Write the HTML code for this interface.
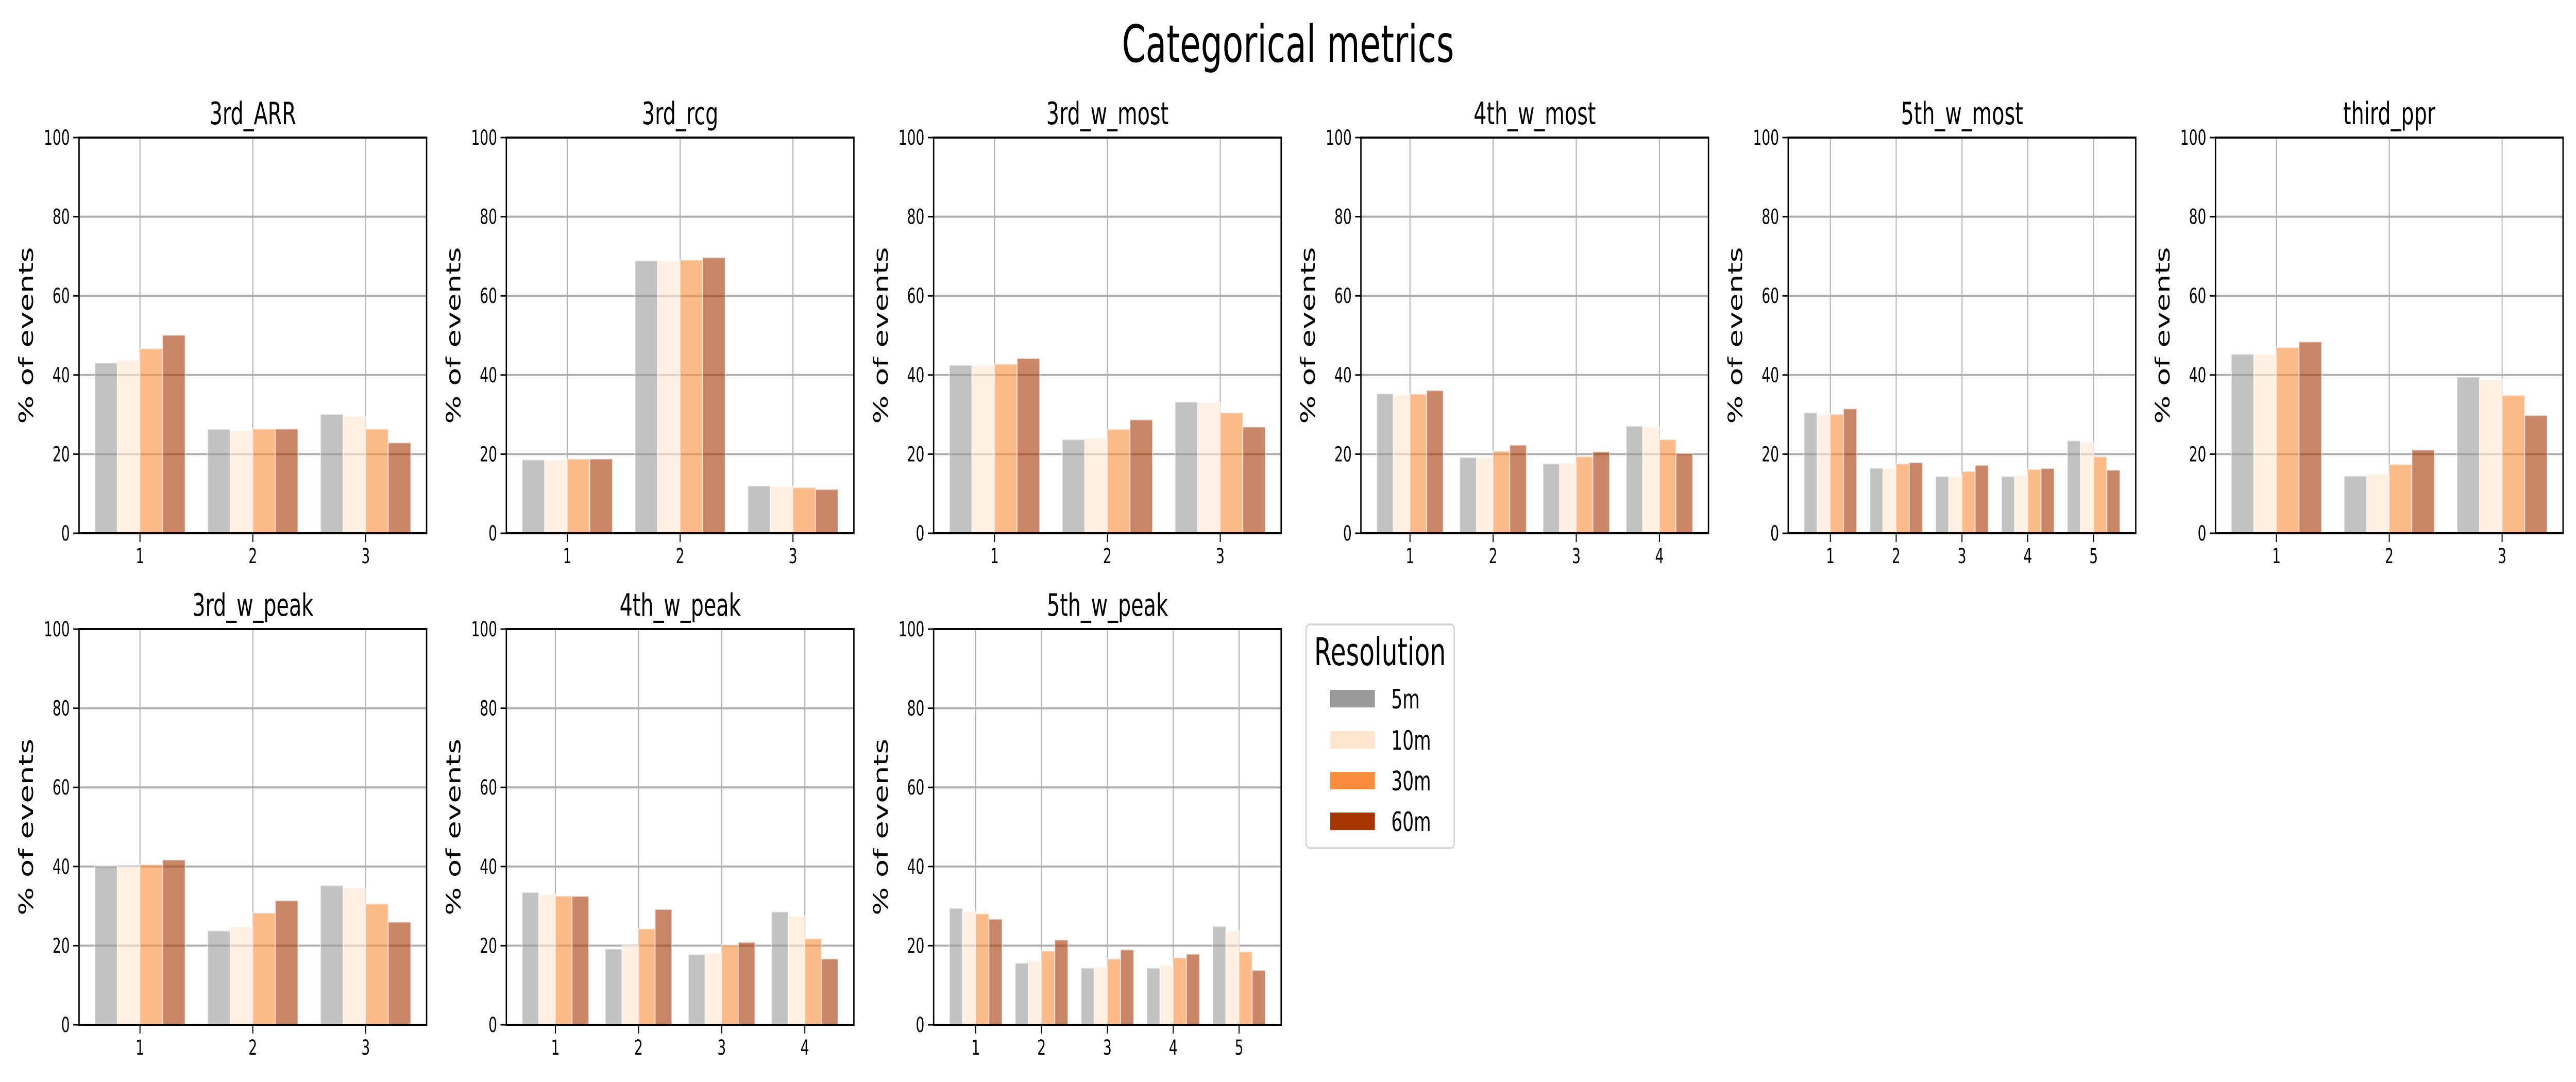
<!DOCTYPE html>
<html><head><meta charset="utf-8"><style>
html,body{margin:0;padding:0;background:#fff;overflow:hidden;}
svg{display:block;width:100vw;height:100vh;font-family:"DejaVu Sans","Liberation Sans",sans-serif;}
</style></head><body>
<svg id="fig" viewBox="0 0 7560 2100" preserveAspectRatio="none" xmlns="http://www.w3.org/2000/svg">
<rect width="7560" height="2100" fill="#fff"/>
<text x="3780" y="120" font-size="100" text-anchor="middle">Categorical metrics</text>
<g id="panels"></g>
<g>
<rect x="3833" y="1212" width="435" height="434" rx="10" fill="#fff" stroke="#d6d6d6" stroke-width="4"/>
<text x="4050" y="1291" font-size="74" text-anchor="middle">Resolution</text>
<g id="legend-items"></g>
</g>
</svg>
<script>
const titles = ["3rd_ARR","3rd_rcg","3rd_w_most","4th_w_most","5th_w_most","third_ppr","3rd_w_peak","4th_w_peak","5th_w_peak"];
const seriesNames = ["5m","10m","30m","60m"];
const seriesColors = ["#999999","#fee6ce","#fd8d3c","#a63603"];
const yTicks = [0,20,40,60,80,100];
const v5m = [
 [43.1,26.3,30.1],[18.6,68.9,12.0],[42.5,23.7,33.2],[35.3,19.2,17.6,27.1],[30.5,16.5,14.4,14.4,23.4],[45.3,14.5,39.5],
 [40.2,23.8,35.2],[33.5,19.2,17.8,28.6],[29.5,15.6,14.4,14.4,24.9]];
const v10m = [
 [43.7,25.9,29.6],[18.6,68.9,11.9],[42.4,24.0,33.0],[35.0,19.2,17.8,26.9],[30.1,16.5,14.4,14.6,23.0],[45.2,15.0,38.9],
 [39.9,24.8,34.6],[33.0,20.0,18.2,27.5],[28.7,16.2,14.6,15.1,23.8]];
const v30m = [
 [46.7,26.4,26.4],[18.8,69.1,11.6],[42.8,26.3,30.5],[35.2,20.8,19.4,23.7],[30.1,17.6,15.7,16.2,19.4],[47.0,17.4,34.9],
 [40.5,28.3,30.6],[32.6,24.3,20.2,21.8],[28.1,18.7,16.7,17.0,18.5]];
const v60m = [
 [50.1,26.4,22.9],[18.8,69.7,11.1],[44.2,28.7,26.9],[36.1,22.3,20.6,20.2],[31.5,17.9,17.2,16.4,16.0],[48.4,21.1,29.8],
 [41.7,31.4,26.0],[32.5,29.2,20.9,16.7],[26.7,21.5,19.0,17.9,13.8]];
const allSeries = [v5m,v10m,v30m,v60m];

const NS="http://www.w3.org/2000/svg";
function mk(tag,attrs,parent){const e=document.createElementNS(NS,tag);for(const k in attrs)e.setAttribute(k,attrs[k]);parent.appendChild(e);return e;}
const panels=document.getElementById('panels');
const W=1020,H=768;
titles.forEach((title,pi)=>{
  const col=pi<6?pi:pi-6, row=pi<6?0:1;
  const L=232+1254*col, T=row===0?267:1221, B=T+H;
  const n=v5m[pi].length;
  const span=n-1+0.8, xmin=0.6-0.05*span, xmax=n+0.4+0.05*span;
  const xs=v=>L+(v-xmin)/(xmax-xmin)*W;
  const ys=v=>B-v/100*H;
  const g=mk('g',{},panels);
  
  
  yTicks.forEach(t=>{ if(t>0&&t<100){const l=mk('line',{x1:L,x2:L+W,y1:ys(t),y2:ys(t),stroke:'#b0b0b0','stroke-width':4},g);
    
    }});
  for(let c=1;c<=n;c++){const l=mk('line',{x1:xs(c),x2:xs(c),y1:T,y2:B,stroke:'#b0b0b0','stroke-width':3},g);
    
    }
  allSeries.forEach((ser,si)=>{
    ser[pi].forEach((v,ci)=>{
      const cx=ci+1+(-0.3+0.2*si);
      const x0=xs(cx-0.1), x1=xs(cx+0.1);
      const r=mk('rect',{x:x0,y:ys(v),width:x1-x0,height:B-ys(v),fill:seriesColors[si],'fill-opacity':0.6,stroke:'#fff','stroke-opacity':0.5,'stroke-width':3},g);
      
      
    });
  });
  const sp=mk('rect',{x:L,y:T,width:W,height:H,fill:'none',stroke:'#000','stroke-width':4},g);
  
  
  yTicks.forEach(t=>{
    mk('line',{x1:L-17,x2:L,y1:ys(t),y2:ys(t),stroke:'#000','stroke-width':3},g);
    const tx=mk('text',{x:L-27,y:ys(t)+14,'font-size':40,'text-anchor':'end'},g);
    tx.textContent=t;
    
    
  });
  for(let c=1;c<=n;c++){
    mk('line',{x1:xs(c),x2:xs(c),y1:B,y2:B+17,stroke:'#000','stroke-width':3},g);
    const tx=mk('text',{x:xs(c),y:B+58,'font-size':40,'text-anchor':'middle'},g);
    tx.textContent=c;
    
    
  }
  const tt=mk('text',{x:L+W/2,y:T-26,'font-size':60,'text-anchor':'middle'},g);
  tt.textContent=title;
  
  
  const yl=mk('text',{x:0,y:0,'font-size':58,'text-anchor':'middle',transform:`translate(${L-135},${T+H/2}) rotate(-90)`},g);
  yl.textContent='% of events';
  
  
});
const li=document.getElementById('legend-items');
const ly=[1356,1436,1515,1594];
seriesNames.forEach((nm,i)=>{
  const r=mk('rect',{x:3904,y:ly[i]-17,width:131,height:34,fill:seriesColors[i]},li);
  
  
  const t=mk('text',{x:4083,y:ly[i]+19,'font-size':52},li);
  t.textContent=nm;
  
  
});
</script>
</body></html>
